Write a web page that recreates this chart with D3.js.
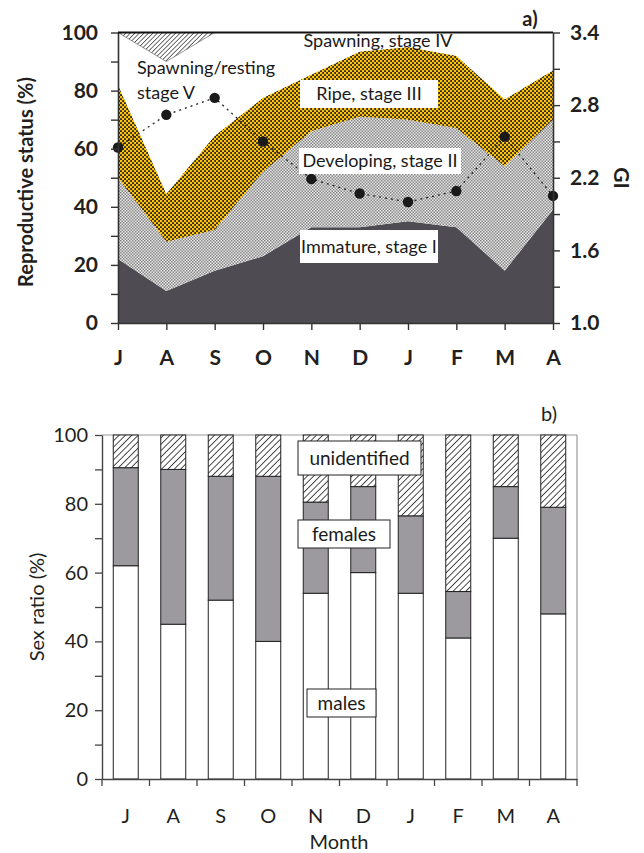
<!DOCTYPE html>
<html><head><meta charset="utf-8">
<script src="https://cdn.jsdelivr.net/npm/d3@7"></script>
<style>
body{margin:0;background:#fff}
svg{display:block;font-family:Lato,"Open Sans",sans-serif}
</style></head><body>
<svg id="chart" width="644" height="853"></svg>
<script>
const months = ["J","A","S","O","N","D","J","F","M","A"];
// reproductive stages, % of fish per month
const immature   = [22, 11, 18, 23, 33, 33, 35, 33, 18, 39];
const developing = [28, 17, 14, 29, 33, 38, 35, 34, 36, 31];
const ripe       = [32, 16.5, 32.5, 25.5, 19.5, 22.5, 25, 25, 23, 17];
const spawning   = [18, 45.5, 35.5, 22.5, 14.5, 6.5, 5, 8, 23, 13];
const resting    = [0, 10, 0, 0, 0, 0, 0, 0, 0, 0];
// gonad index
const gi = [2.45, 2.72, 2.86, 2.50, 2.19, 2.07, 2.00, 2.09, 2.54, 2.05];
// sex ratio, %
const males        = [62, 45, 52, 40, 54, 60, 54, 41, 70, 48];
const females      = [28.5, 45, 36, 48, 26.5, 25, 22.5, 13.5, 15, 31];
const unidentified = [9.5, 10, 12, 12, 19.5, 15, 23.5, 45.5, 15, 21];
const pctTicks = [0, 20, 40, 60, 80, 100];
const giTicks  = [1.0, 1.6, 2.2, 2.8, 3.4];

const svg = d3.select("#chart");
const defs = svg.append("defs");

// yellow / dark checker for ripe gonads
const pRipe = defs.append("pattern").attr("id","pRipe").attr("patternUnits","userSpaceOnUse")
  .attr("width",4).attr("height",4);
pRipe.append("rect").attr("width",4).attr("height",4).attr("fill","#35302a");
pRipe.append("rect").attr("width",2.2).attr("height",2.2).attr("fill","#ffc20a");
pRipe.append("rect").attr("x",2).attr("y",2).attr("width",2.2).attr("height",2.2).attr("fill","#ffc20a");
// fine grey checker for developing
const pDev = defs.append("pattern").attr("id","pDev").attr("patternUnits","userSpaceOnUse")
  .attr("width",3).attr("height",3);
pDev.append("rect").attr("width",3).attr("height",3).attr("fill","#e4e4e4");
pDev.append("rect").attr("width",1.5).attr("height",1.5).attr("fill","#8a8a8a");
pDev.append("rect").attr("x",1.5).attr("y",1.5).attr("width",1.5).attr("height",1.5).attr("fill","#8a8a8a");
// hatching
function hatch(id, gap, color, w){
  const p = defs.append("pattern").attr("id",id).attr("patternUnits","userSpaceOnUse")
    .attr("width",gap).attr("height",gap).attr("patternTransform","rotate(45)");
  p.append("rect").attr("width",gap).attr("height",gap).attr("fill","#fff");
  p.append("line").attr("x1",0).attr("y1",0).attr("x2",0).attr("y2",gap)
    .attr("stroke",color).attr("stroke-width",w);
}
hatch("pRest", 3.2, "#333", 1.4);
hatch("pUnid", 4.5, "#111", 1.5);

/* ---------- a) reproductive status ---------- */
const L = 118, R = 553, T = 32.5, B = 323;
const x = d3.scalePoint().domain(d3.range(months.length)).range([L, R]);
const y = d3.scaleLinear().domain([0,100]).range([B, T]);
const yGI = d3.scaleLinear().domain([1.0,3.4]).range([B, T]);

const keys = ["immature","developing","ripe","spawning","resting"];
const stageData = { immature, developing, ripe, spawning, resting };
const rows = months.map((m,i) => { const r = {i}; keys.forEach(k => r[k] = stageData[k][i]); return r; });
const stacked = d3.stack().keys(keys)(rows);
const fills = { immature:"#4e4c52", developing:"url(#pDev)", ripe:"url(#pRipe)", spawning:"#fff", resting:"url(#pRest)" };
const area = d3.area().x(d => x(d.data.i)).y0(d => y(d[0])).y1(d => y(d[1]));

const gA = svg.append("g");
gA.selectAll("path.stage").data(stacked).join("path").attr("class","stage")
  .attr("d", area).attr("fill", d => fills[d.key])
  .attr("stroke", d => d.key === "resting" ? "#555" : "none").attr("stroke-width", 0.6);

// GI line and points
const giLine = d3.line().x((d,i) => x(i)).y(d => yGI(d));
gA.append("path").attr("d", giLine(gi)).attr("fill","none").attr("stroke","#222")
  .attr("stroke-width",1.3).attr("stroke-dasharray","2,4");
gA.selectAll("circle.gi").data(gi).join("circle").attr("class","gi")
  .attr("cx",(d,i)=>x(i)).attr("cy",d=>yGI(d)).attr("r",5.2).attr("fill","#1a1a1a");

// stage labels
function boxLabel(g, txt, x0, y0, w, h, size, stroke){
  g.append("rect").attr("x",x0).attr("y",y0).attr("width",w).attr("height",h)
    .attr("fill","#fff").attr("stroke", stroke ? "#222" : "none").attr("stroke-width",1);
  g.append("text").attr("x",x0+w/2).attr("y",y0+h/2).attr("dy","0.35em")
    .attr("text-anchor","middle").attr("font-size",size).attr("fill","#1a1a1a").text(txt);
}
boxLabel(gA, "Ripe, stage III", 300, 80, 138, 28, 18, false);
boxLabel(gA, "Developing, stage II", 299, 148, 162, 26, 18, false);
boxLabel(gA, "Immature, stage I", 300, 230, 138, 33, 18, false);
gA.append("text").attr("x",378).attr("y",47).attr("text-anchor","middle").attr("font-size",18)
  .attr("fill","#1a1a1a").text("Spawning, stage IV");
gA.append("text").attr("x",137).attr("y",74).attr("font-size",18).attr("fill","#1a1a1a").text("Spawning/resting");
gA.append("text").attr("x",137).attr("y",99).attr("font-size",18).attr("fill","#1a1a1a").text("stage V");

// axes
const axL = gA.append("g").attr("transform",`translate(${L},0)`)
  .call(d3.axisLeft(y).tickValues(d3.range(0,101,10)).tickSize(7).tickSizeOuter(0)
    .tickFormat(d => pctTicks.includes(d) ? d : ""));
const axR = gA.append("g").attr("transform",`translate(${R},0)`)
  .call(d3.axisRight(yGI).tickValues(d3.range(0,9).map(k => 1.0 + 0.3*k)).tickSize(7).tickSizeOuter(0)
    .tickFormat(d => giTicks.some(t => Math.abs(t-d) < 1e-6) ? d3.format(".1f")(d) : ""));
const axB = gA.append("g").attr("transform",`translate(0,${B})`)
  .call(d3.axisBottom(x).tickSize(7).tickSizeOuter(0).tickFormat(i => months[i]));
[axL, axR, axB].forEach(a => {
  a.select(".domain").attr("stroke","#333").attr("stroke-width",1.6);
  a.selectAll(".tick line").attr("stroke","#333").attr("stroke-width",1.4);
  a.selectAll("text").attr("font-size",21).attr("font-weight","bold").attr("fill","#231f20")
    .attr("font-family","Lato,'Open Sans',sans-serif");
});
axL.selectAll("text").attr("x",-20);
axR.selectAll("text").attr("x",17);
axB.selectAll("text").attr("y",27);
gA.append("line").attr("x1",L).attr("x2",R).attr("y1",T).attr("y2",T).attr("stroke","#111").attr("stroke-width",2);

gA.append("text").attr("transform","translate(33,182) rotate(-90)").attr("text-anchor","middle")
  .attr("font-size",20).attr("font-weight","bold").attr("fill","#231f20").text("Reproductive status (%)");
gA.append("text").attr("transform","translate(614,178) rotate(90)").attr("text-anchor","middle")
  .attr("font-size",21).attr("font-weight","bold").attr("fill","#231f20").text("GI");
gA.append("text").attr("x",530).attr("y",26).attr("text-anchor","middle")
  .attr("font-size",20).attr("font-weight","bold").attr("fill","#231f20").text("a)");

/* ---------- b) sex ratio ---------- */
const L2 = 102, R2 = 577, T2 = 435, B2 = 779;
const xb = d3.scaleBand().domain(d3.range(months.length)).range([L2, R2]).paddingInner(0.474).paddingOuter(0.237);
const yb = d3.scaleLinear().domain([0,100]).range([B2, T2]);
const sexKeys = ["males","females","unidentified"];
const sexData = { males, females, unidentified };
const sexRows = months.map((m,i) => { const r = {i}; sexKeys.forEach(k => r[k] = sexData[k][i]); return r; });
const sexStack = d3.stack().keys(sexKeys)(sexRows);
const sexFill = { males:"#fff", females:"#9c9a9f", unidentified:"url(#pUnid)" };

const gB = svg.append("g");
gB.append("line").attr("x1",L2).attr("x2",R2).attr("y1",T2).attr("y2",T2).attr("stroke","#999").attr("stroke-width",1.2);
gB.append("line").attr("x1",R2).attr("x2",R2).attr("y1",T2).attr("y2",B2).attr("stroke","#999").attr("stroke-width",1.2);

gB.selectAll("g.series").data(sexStack).join("g").attr("class","series")
  .selectAll("rect").data(d => d.map(v => ({v, key: d.key}))).join("rect")
  .attr("x", d => xb(d.v.data.i)).attr("width", xb.bandwidth())
  .attr("y", d => yb(d.v[1])).attr("height", d => yb(d.v[0]) - yb(d.v[1]))
  .attr("fill", d => sexFill[d.key]).attr("stroke","#222").attr("stroke-width",1);

boxLabel(gB, "unidentified", 298, 441, 123, 34, 19, true);
boxLabel(gB, "females", 298, 520, 92, 28, 19, true);
boxLabel(gB, "males", 307, 689, 69, 28, 19, true);

const axL2 = gB.append("g").attr("transform",`translate(${L2},0)`)
  .call(d3.axisLeft(yb).tickValues(d3.range(0,101,10)).tickSize(7).tickSizeOuter(0)
    .tickFormat(d => pctTicks.includes(d) ? d : ""));
const axB2 = gB.append("g").attr("transform",`translate(0,${B2})`)
  .call(d3.axisBottom(xb).tickSize(0).tickSizeOuter(0).tickFormat(i => months[i]));
// tick marks between month bands
const step = xb.step();
gB.append("g").selectAll("line").data(d3.range(months.length + 1)).join("line")
  .attr("x1", k => L2 + k*step).attr("x2", k => L2 + k*step)
  .attr("y1", B2).attr("y2", B2 + 7).attr("stroke","#444").attr("stroke-width",1.3);
[axL2, axB2].forEach(a => {
  a.select(".domain").attr("stroke","#444").attr("stroke-width",1.4);
  a.selectAll(".tick line").attr("stroke","#444").attr("stroke-width",1.3);
  a.selectAll("text").attr("font-size",20).attr("fill","#231f20")
    .attr("font-family","Lato,'Open Sans',sans-serif");
});
axL2.selectAll("text").attr("x",-14);
axB2.selectAll("text").attr("y",30);

gB.append("text").attr("transform","translate(44,607) rotate(-90)").attr("text-anchor","middle")
  .attr("font-size",20).attr("fill","#231f20").text("Sex ratio (%)");
gB.append("text").attr("x",339).attr("y",849).attr("text-anchor","middle")
  .attr("font-size",20).attr("fill","#231f20").text("Month");
gB.append("text").attr("x",549).attr("y",421).attr("text-anchor","middle")
  .attr("font-size",20).attr("fill","#231f20").text("b)");
</script>
</body></html>
